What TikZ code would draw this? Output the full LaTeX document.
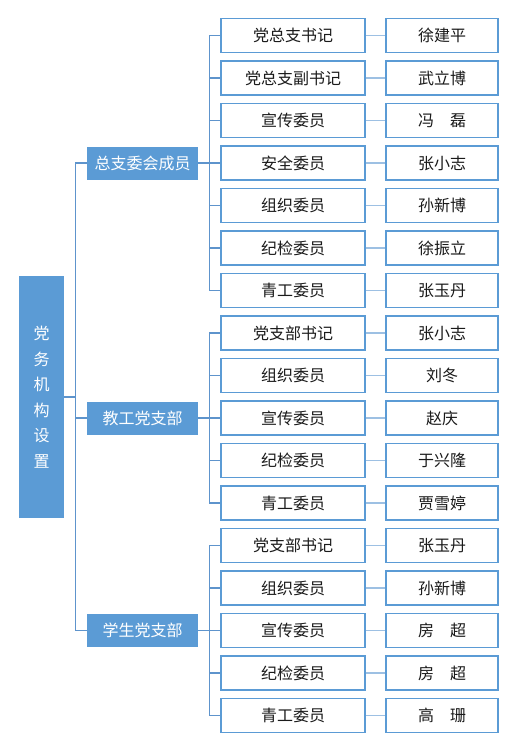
\documentclass[tikz,border=0pt]{standalone}
\usepackage{fontspec}
\setmainfont{Noto Sans CJK SC}
\definecolor{bblue}{HTML}{5B9BD5}
\definecolor{lineblue}{HTML}{5E94CC}
\definecolor{lightline}{HTML}{9DC0E3}
\definecolor{txt}{HTML}{1A1A1A}
\begin{document}
\begin{tikzpicture}[x=1pt,y=-1pt,
  rootbox/.style={fill=bblue,draw=none,text=white,minimum width=45pt,minimum height=242pt,inner sep=0pt,align=center,font=\fontsize{16}{25.5}\selectfont},
  grpbox/.style={fill=bblue,draw=none,text=white,minimum width=111pt,minimum height=33pt,inner sep=0pt,font=\fontsize{16}{18}\selectfont},
  rolebox/.style={fill=white,draw=bblue,line width=1.1pt,text=txt,minimum width=144pt,minimum height=34pt,inner sep=0pt,font=\fontsize{16}{18}\selectfont},
  namebox/.style={fill=white,draw=bblue,line width=1.1pt,text=txt,minimum width=112pt,minimum height=34pt,inner sep=0pt,font=\fontsize{16}{18}\selectfont},
  tree/.style={draw=lineblue,line width=1.2pt},
  link/.style={draw=lightline,line width=1.8pt}]
\useasboundingbox (0,0) rectangle (525,744);
\node[rootbox] (root) at (41.5,397) {党\\务\\机\\构\\设\\置};
\node[grpbox] (g1) at (142.5,163) {总支委会成员};
\node[grpbox] (g2) at (142.5,418) {教工党支部};
\node[grpbox] (g3) at (142.5,630.5) {学生党支部};
\foreach \i/\r/\n in {0/党总支书记/徐建平,1/党总支副书记/武立博,2/宣传委员/冯　磊,3/安全委员/张小志,4/组织委员/孙新博,5/纪检委员/徐振立,6/青工委员/张玉丹,7/党支部书记/张小志,8/组织委员/刘冬,9/宣传委员/赵庆,10/纪检委员/于兴隆,11/青工委员/贾雪婷,12/党支部书记/张玉丹,13/组织委员/孙新博,14/宣传委员/房　超,15/纪检委员/房　超,16/青工委员/高　珊}{
  \node[rolebox] (r\i) at (293,35.5+42.5*\i) {\r};
  \node[namebox] (n\i) at (442,35.5+42.5*\i) {\n};
  \draw[link] (r\i.east) -- (n\i.west);
}
\foreach \g in {g1,g2,g3}{
  \draw[tree] (root.east) -- ++(11,0) |- (\g.west);
}
\foreach \i in {0,...,6}{
  \draw[tree] (g1.east) -- ++(11,0) |- (r\i.west);
}
\foreach \i in {7,...,11}{
  \draw[tree] (g2.east) -- ++(11,0) |- (r\i.west);
}
\foreach \i in {12,...,16}{
  \draw[tree] (g3.east) -- ++(11,0) |- (r\i.west);
}
\end{tikzpicture}
\end{document}
